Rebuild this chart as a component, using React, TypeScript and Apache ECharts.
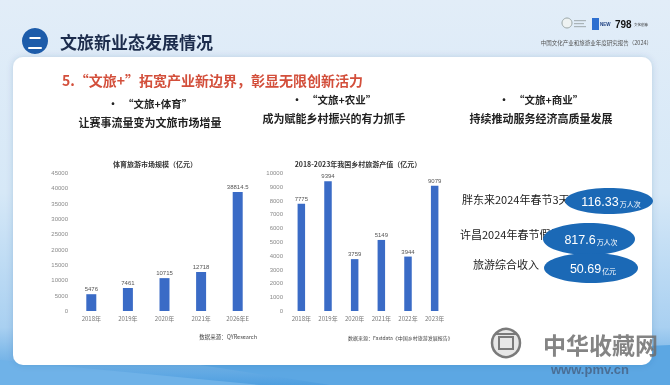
import React, { useEffect, useRef } from "react";
import * as echarts from "echarts";

const sportsYears = ["2018年", "2019年", "2020年", "2021年", "2026年E"];
const sportsValues = [5476, 7461, 10715, 12718, 38814.5];
const sportsMax = 45000;
const sportsStep = 5000;

const ruralYears = ["2018年", "2019年", "2020年", "2021年", "2022年", "2023年"];
const ruralValues = [7775, 9394, 3759, 5149, 3944, 9079];
const ruralMax = 10000;
const ruralStep = 1000;

const headerTitle = "文旅新业态发展情况";
const reportName = "中国文化产业和旅游业年度研究报告（2024）";
const headline = "5.“文旅+”拓宽产业新边界，彰显无限创新活力";
const bulletHeads = ["•  “文旅+体育”", "•  “文旅+农业”", "•  “文旅+商业”"];
const bulletLines = ["让赛事流量变为文旅市场增量", "成为赋能乡村振兴的有力抓手", "持续推动服务经济高质量发展"];
const chartTitles = ["体育旅游市场规模（亿元）", "2018-2023年我国乡村旅游产值（亿元）"];
const sources = ["数据来源：QYResearch", "数据来源：Fastdata《中国乡村旅游发展报告》"];
const statLabels = ["胖东来2024年春节3天", "许昌2024年春节假期", "旅游综合收入"];
const statValues = ["116.33", "817.6", "50.69"];
const statUnits = ["万人次", "万人次", "亿元"];

const CJK = '"Noto Sans CJK SC", "Noto Sans", sans-serif';
const NUM = '"Liberation Sans", Arial, sans-serif';
const BAR = "#3a6bc6";

export default function App() {
  const ref = useRef<HTMLDivElement>(null);
  useEffect(() => {
    document.body.style.margin = "0";
    const chart = echarts.init(ref.current!, null, { renderer: "svg" });

    const txt = (x: number, y: number, text: string, size: number, opts: any = {}) => ({
      type: "text",
      x,
      y,
      z: opts.z ?? 5,
      style: {
        text,
        fontSize: size,
        fontFamily: opts.family ?? CJK,
        fontWeight: opts.weight ?? "normal",
        fill: opts.color ?? "#222",
        align: opts.align ?? "left",
        verticalAlign: "middle",
      },
    });

    const ellipses = [
      { cx: 609, cy: 201, rx: 44, ry: 13 },
      { cx: 589, cy: 239, rx: 46, ry: 16 },
      { cx: 591, cy: 268, rx: 47, ry: 15 },
    ];

    const graphic: any[] = [
      {
        type: "rect",
        z: -20,
        shape: { x: 0, y: 0, width: 670, height: 385 },
        style: {
          fill: new echarts.graphic.LinearGradient(0, 0, 0, 1, [
            { offset: 0, color: "#e2edf8" },
            { offset: 0.5, color: "#d6e8f7" },
            { offset: 0.85, color: "#a9d0f1" },
            { offset: 1, color: "#4f9fe0" },
          ]),
        },
      },
      {
        type: "polygon",
        z: -19,
        shape: { points: [[0, 360], [260, 385], [0, 385]] },
        style: { fill: "#6fb2e8" },
      },
      {
        type: "polygon",
        z: -19,
        shape: { points: [[200, 365], [670, 345], [670, 385], [330, 385]] },
        style: { fill: "#5ca7e3" },
      },
      {
        type: "rect",
        z: -18,
        shape: { x: 13, y: 57, width: 639, height: 308, r: 10 },
        style: { fill: "#ffffff", shadowBlur: 6, shadowColor: "rgba(20,70,130,0.18)" },
      },
      // header
      { type: "circle", z: 5, shape: { cx: 35, cy: 41, r: 13 }, style: { fill: "#1d5caa" } },
      txt(35, 41, "二", 15, { color: "#ffffff", weight: "bold", align: "center" }),
      txt(60, 41, headerTitle, 17, { color: "#1c2c4c", weight: "bold" }),
      // top right logos
      { type: "circle", z: 5, shape: { cx: 567, cy: 23, r: 5 }, style: { fill: "#eef2f2", stroke: "#9aa5a5", lineWidth: 1 } },
      { type: "rect", z: 5, shape: { x: 574, y: 20, width: 12, height: 1.2 }, style: { fill: "#aab4b8" } },
      { type: "rect", z: 5, shape: { x: 574, y: 23, width: 10, height: 1.2 }, style: { fill: "#aab4b8" } },
      { type: "rect", z: 5, shape: { x: 574, y: 26, width: 12, height: 1.2 }, style: { fill: "#aab4b8" } },
      { type: "rect", z: 5, shape: { x: 592, y: 18, width: 7, height: 12 }, style: { fill: "#2d6fd0" } },
      txt(600, 24, "NEW", 4.5, { color: "#1c3f80", weight: "bold", family: NUM }),
      txt(615, 24, "798", 10, { color: "#111", weight: "bold", family: NUM }),
      txt(641, 24, "文化创意", 3.5, { color: "#222", align: "center" }),
      txt(652, 43, reportName, 5.5, { color: "#555", align: "right" }),
      // headline
      txt(62, 80, headline, 14, { color: "#d34f3b", weight: "bold" }),
      txt(150, 103, bulletHeads[0], 10.5, { weight: "bold", align: "center" }),
      txt(150, 122, bulletLines[0], 11, { weight: "bold", align: "center" }),
      txt(334, 99, bulletHeads[1], 10.5, { weight: "bold", align: "center" }),
      txt(334, 118, bulletLines[1], 11, { weight: "bold", align: "center" }),
      txt(541, 99, bulletHeads[2], 10.5, { weight: "bold", align: "center" }),
      txt(541, 118, bulletLines[2], 11, { weight: "bold", align: "center" }),
      // chart titles & sources
      txt(155, 164, chartTitles[0], 7, { weight: "bold", align: "center", color: "#333" }),
      txt(358, 164, chartTitles[1], 7, { weight: "bold", align: "center", color: "#333" }),
      txt(257, 337, sources[0], 5.5, { align: "right", color: "#444" }),
      txt(348, 337, sources[1], 5, { color: "#444" }),
      // right stats
      txt(462, 199, statLabels[0], 11, { color: "#222" }),
      txt(460, 234, statLabels[1], 11, { color: "#222" }),
      txt(473, 264, statLabels[2], 11, { color: "#222" }),
    ];

    ellipses.forEach((e, i) => {
      graphic.push({ type: "ellipse", z: 10 + i * 2, shape: e, style: { fill: "#1b69b6" } });
      graphic.push({
        type: "text",
        x: e.cx + 2,
        y: e.cy + 1,
        z: 11 + i * 2,
        style: {
          text: `{n|${statValues[i]}}{u|${statUnits[i]}}`,
          align: "center",
          verticalAlign: "middle",
          rich: {
            n: { fontSize: 12.5, fontFamily: NUM, fill: "#ffffff", color: "#ffffff" },
            u: { fontSize: 7, fontFamily: CJK, fill: "#ffffff", color: "#ffffff", padding: [3, 0, 0, 1] },
          },
        },
      });
    });

    // watermark
    graphic.push(
      { type: "circle", z: 20, shape: { cx: 506, cy: 343, r: 14 }, style: { fill: "rgba(225,225,225,0.8)", stroke: "#7a7a7a", lineWidth: 2.5 } },
      { type: "rect", z: 21, shape: { x: 499, y: 337, width: 14, height: 12 }, style: { fill: "none", stroke: "#7a7a7a", lineWidth: 2 } },
      { type: "rect", z: 21, shape: { x: 496, y: 333, width: 20, height: 2 }, style: { fill: "#7a7a7a" } },
      txt(543, 344, "中华收藏网", 23, { color: "rgba(110,110,110,0.85)", weight: "bold", z: 21 }),
      txt(551, 369, "www.pmv.cn", 13, { color: "rgba(70,100,135,0.85)", weight: "bold", family: NUM, z: 21 })
    );

    const yLabel = { show: true, fontSize: 6, color: "#8a8a8a", margin: 5, fontFamily: NUM, formatter: (v: number) => String(v) };
    const xLabel = { show: true, fontSize: 6, color: "#777", margin: 4, fontFamily: CJK };
    const valLabel = { show: true, position: "top", fontSize: 6, color: "#555", distance: 2, fontFamily: NUM, formatter: (p: any) => String(p.value) };

    chart.setOption({
      animation: false,
      graphic: { elements: graphic },
      grid: [
        { left: 73, top: 173, width: 183, height: 138 },
        { left: 288, top: 173, width: 160, height: 138 },
      ],
      xAxis: [
        { type: "category", gridIndex: 0, z: 10, data: sportsYears, axisLine: { show: false }, axisTick: { show: false }, axisLabel: xLabel },
        { type: "category", gridIndex: 1, z: 10, data: ruralYears, axisLine: { show: false }, axisTick: { show: false }, axisLabel: xLabel },
      ],
      yAxis: [
        { type: "value", gridIndex: 0, z: 10, min: 0, max: sportsMax, interval: sportsStep, axisLine: { show: false }, axisTick: { show: false }, splitLine: { show: false }, axisLabel: yLabel },
        { type: "value", gridIndex: 1, z: 10, min: 0, max: ruralMax, interval: ruralStep, axisLine: { show: false }, axisTick: { show: false }, splitLine: { show: false }, axisLabel: yLabel },
      ],
      series: [
        { type: "bar", xAxisIndex: 0, yAxisIndex: 0, data: sportsValues, barWidth: 10, itemStyle: { color: BAR }, label: valLabel, z: 3 },
        { type: "bar", xAxisIndex: 1, yAxisIndex: 1, data: ruralValues, barWidth: 7.5, itemStyle: { color: BAR }, label: valLabel, z: 3 },
      ],
    });
    return () => chart.dispose();
  }, []);
  return <div ref={ref} style={{ position: "fixed", left: 0, top: 0, width: 670, height: 385 }} />;
}
